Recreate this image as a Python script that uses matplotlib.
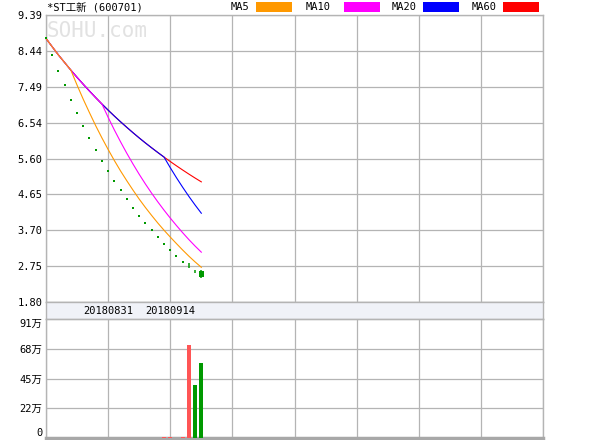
import matplotlib
matplotlib.use("Agg")
import matplotlib.pyplot as plt
import numpy as np
import pandas as pd
from matplotlib.patches import Rectangle


# -----------------------------
# DATA
# -----------------------------
TITLE = "*ST工新 (600701)"

date_tick_pos = [10, 20]
date_tick_labels = ["20180831", "20180914"]

opens = [8.77, 8.33, 7.90, 7.53, 7.13, 6.79, 6.45, 6.13, 5.81, 5.52,
         5.26, 4.99, 4.75, 4.52, 4.28, 4.07, 3.88, 3.70, 3.51, 3.33,
         3.17, 3.01, 2.85, 2.70, 2.57, 2.62]
highs = [8.77, 8.33, 7.90, 7.53, 7.13, 6.79, 6.45, 6.13, 5.81, 5.52,
         5.26, 4.99, 4.75, 4.52, 4.28, 4.07, 3.88, 3.70, 3.51, 3.33,
         3.17, 3.01, 2.85, 2.84, 2.65, 2.65]
lows = [8.77, 8.33, 7.90, 7.53, 7.13, 6.79, 6.45, 6.13, 5.81, 5.52,
        5.26, 4.99, 4.75, 4.52, 4.28, 4.07, 3.88, 3.70, 3.51, 3.33,
        3.17, 3.01, 2.85, 2.70, 2.57, 2.43]
closes = [8.77, 8.33, 7.90, 7.53, 7.13, 6.79, 6.45, 6.13, 5.81, 5.52,
          5.26, 4.99, 4.75, 4.52, 4.28, 4.07, 3.88, 3.70, 3.51, 3.33,
          3.17, 3.01, 2.85, 2.70, 2.57, 2.46]

# volume in 万 shares; True = red bar
volumes = [0, 0, 0, 0, 0, 0, 0, 0, 0, 0,
           0, 0, 0, 0, 0, 0, 0, 0, 0, 0.8,
           0.8, 0, 0.8, 71, 40.5, 57]
vol_red = [True] * 24 + [False, False]

price_tick_labels = ["1.80", "2.75", "3.70", "4.65", "5.60", "6.54", "7.49", "8.44", "9.39"]
vol_tick_labels = ["0", "22万", "45万", "68万", "91万"]

ma_names = ["MA5", "MA10", "MA20", "MA60"]
ma_windows = [5, 10, 20, 60]
ma_colors = ["#ff9900", "#ff00ff", "#0000ff", "#ff0000"]


# -----------------------------
# LAYOUT
# -----------------------------
W, H = 600, 440
GRID = "#b4b4b4"
GREEN = "#009900"
VOL_RED = "#ff5555"
MONO = ["DejaVu Sans Mono", "Noto Sans CJK SC"]
X_MAX = 80

# legend text left edge / colour box left edge, in pixels
LEGEND_X = [(231, 256), (306, 344), (392, 423), (472, 503)]


def box(x0, y0, x1, y1):
    return [x0 / W, 1 - y1 / H, (x1 - x0) / W, (y1 - y0) / H]


fig = plt.figure(figsize=(W / 100, H / 100), dpi=100)
ax_p = fig.add_axes(box(46, 15, 543, 302))
ax_d = fig.add_axes(box(46, 302, 543, 319))
ax_v = fig.add_axes(box(46, 319, 543, 438))

for ax in (ax_p, ax_d, ax_v):
    ax.set_xlim(0, X_MAX)
    for spine in ax.spines.values():
        spine.set_color(GRID)
        spine.set_linewidth(1.0)
    ax.tick_params(length=0, labelbottom=False)

x = np.arange(len(closes))
o = np.array(opens)
h = np.array(highs)
l = np.array(lows)
c = np.array(closes)

# price panel
ax_p.set_ylim(1.80, 9.39)
ax_p.set_xticks(range(0, X_MAX + 1, 10))
ax_p.set_yticks(np.linspace(1.80, 9.39, len(price_tick_labels)))
ax_p.set_yticklabels(price_tick_labels, family=MONO, fontsize=7.5)
ax_p.tick_params(axis="y", pad=2.5)
ax_p.grid(color=GRID, linewidth=0.9)

ax_p.text(1 / W * 0 + 0.002, 0.945, "SOHU.com", transform=ax_p.transAxes, color="#e2e2e2",
          fontsize=15, family="DejaVu Sans Mono", va="center", ha="left", zorder=0)

close_s = pd.Series(closes)
for win, col in list(zip(ma_windows, ma_colors))[::-1]:
    ma = close_s.rolling(win, min_periods=1).mean()
    ax_p.plot(x, ma, color=col, linewidth=0.8, zorder=3, clip_on=False)

flat = h == l
ax_p.scatter(x[flat], c[flat], s=1.2, marker="s", color=GREEN, linewidths=0, zorder=4, clip_on=False)
ax_p.vlines(x[~flat], l[~flat], h[~flat], color=GREEN, linewidth=1.1, zorder=4)
body = np.abs(c - o) > 0
ax_p.bar(x[body], np.abs(c - o)[body], bottom=np.minimum(c, o)[body], width=0.8,
         color=GREEN, zorder=4)

# date band
ax_d.set_facecolor("#f0f2f8")
ax_d.set_xticks([])
ax_d.set_yticks([])
for pos, lab in zip(date_tick_pos, date_tick_labels):
    ax_d.text(pos, 0.5, lab, transform=ax_d.get_xaxis_transform(), ha="center", va="center",
              family=MONO, fontsize=7.5)

# volume panel
ax_v.set_ylim(0, 91)
ax_v.set_xticks(range(0, X_MAX + 1, 10))
ax_v.set_yticks(np.linspace(0, 91, len(vol_tick_labels)))
ax_v.set_yticklabels(vol_tick_labels, family=MONO, fontsize=7.5)
ax_v.tick_params(axis="y", pad=2.5)
ax_v.get_yticklabels()[0].set_va("bottom")
ax_v.get_yticklabels()[-1].set_va("top")
ax_v.grid(color=GRID, linewidth=0.9)
ax_v.spines["bottom"].set_linewidth(2.5)
ax_v.spines["bottom"].set_color("#a8a8a8")
ax_v.bar(x, volumes, width=0.65, color=[VOL_RED if r else GREEN for r in vol_red], zorder=3)

# title and legend
fig.text(47 / W, 1 - 8 / H, TITLE, ha="left", va="center", family=MONO, fontsize=7.5)
for name, col, (tx, bx) in zip(ma_names, ma_colors, LEGEND_X):
    fig.text(tx / W, 1 - 7.5 / H, name, ha="left", va="center", family=MONO, fontsize=7.5)
    fig.add_artist(Rectangle((bx / W, 1 - 12 / H), 36 / W, 10 / H,
                             transform=fig.transFigure, color=col, linewidth=0))

fig.savefig("out.png", dpi=100)
